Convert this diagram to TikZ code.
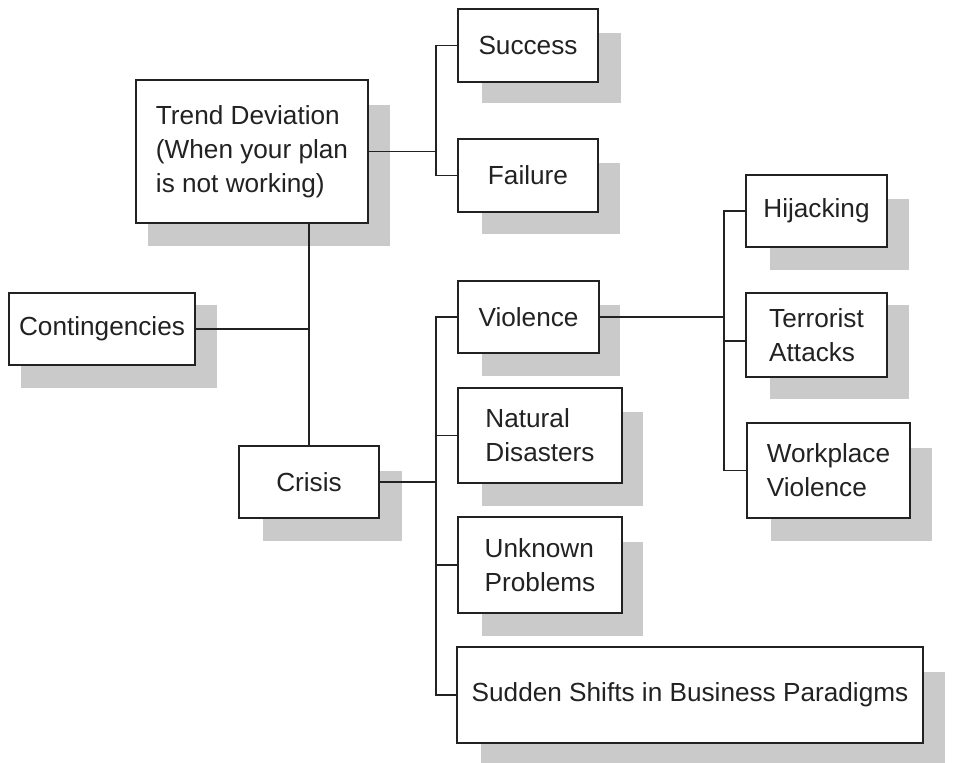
\documentclass[tikz,border=0pt]{standalone}
\usepackage{fontspec}
\setmainfont{Liberation Sans}
\definecolor{shadowgray}{RGB}{202,202,202}
\definecolor{inkgray}{RGB}{34,34,34}
\begin{document}
\begin{tikzpicture}[x=0.02cm,y=-0.02cm,
  box/.style={draw=inkgray, line width=0.9pt, fill=white, inner sep=0pt,
    align=left, text=inkgray, font=\fontsize{14.9}{19.3}\selectfont},
  shade/.style={fill=shadowgray},
  conn/.style={draw=inkgray, line width=0.85pt}]
\useasboundingbox (0,0) rectangle (957,763);
% shadows
\fill[shade] (148,105) rectangle (390,246);
\fill[shade] (482,33) rectangle (621,103);
\fill[shade] (482,163) rectangle (620,234);
\fill[shade] (21,305) rectangle (217,388);
\fill[shade] (263,471) rectangle (402,541);
\fill[shade] (482,305) rectangle (620,376);
\fill[shade] (482,412) rectangle (643,506);
\fill[shade] (482,542) rectangle (643,636);
\fill[shade] (481,672) rectangle (945,763);
\fill[shade] (770,199) rectangle (909,270);
\fill[shade] (770,305) rectangle (909,399);
\fill[shade] (771,448) rectangle (932,541);
% boxes
\node[box, minimum width=4.64cm, minimum height=2.86cm] (trend) at (252,151.5) {Trend Deviation\\(When your plan\\is not working)};
\node[box, minimum width=2.8cm, minimum height=1.46cm] (success) at (528,45.5) {Success};
\node[box, minimum width=2.8cm, minimum height=1.46cm] (failure) at (528,175.5) {Failure};
\node[box, minimum width=3.72cm, minimum height=1.44cm] (cont) at (102,329) {Contingencies};
\node[box, minimum width=2.8cm, minimum height=1.44cm] (crisis) at (309,482) {Crisis};
\node[box, minimum width=2.82cm, minimum height=1.44cm] (violence) at (528.5,317) {Violence};
\node[box, minimum width=3.28cm, minimum height=1.9cm] (natural) at (540,435.5) {Natural\\Disasters};
\node[box, minimum width=3.28cm, minimum height=1.92cm] (unknown) at (540,565) {Unknown\\Problems};
\node[box, minimum width=9.32cm, minimum height=1.92cm] (sudden) at (690,695) {Sudden Shifts in Business Paradigms};
\node[box, minimum width=2.82cm, minimum height=1.44cm] (hijack) at (816.5,211) {Hijacking};
\node[box, minimum width=2.82cm, minimum height=1.68cm] (terror) at (816.5,335) {Terrorist\\Attacks};
\node[box, minimum width=3.26cm, minimum height=1.9cm] (work) at (828.5,470.5) {Workplace\\Violence};
% junction coordinates
\coordinate (jA) at (436,151.5);
\coordinate (jB) at (436,482);
\coordinate (jC) at (724,317);
% connectors
\draw[conn] (trend.east) -- (jA);
\draw[conn] (success.west) -| (jA) |- (failure.west);
\draw[conn] (crisis.north) -- (crisis.north |- trend.south);
\draw[conn] (cont.east) -- (cont.east -| crisis.north);
\draw[conn] (crisis.east) -- (jB);
\draw[conn] (violence.west) -| (jB) |- (sudden.west);
\draw[conn] (natural.west) -- (natural.west -| jB);
\draw[conn] (unknown.west) -- (unknown.west -| jB);
\draw[conn] (violence.east) -- (jC);
\draw[conn] (hijack.west) -| (jC) |- (work.west);
\draw[conn] ([yshift=-0.12cm]terror.west) -- ([yshift=-0.12cm]terror.west -| jC);
\end{tikzpicture}
\end{document}
